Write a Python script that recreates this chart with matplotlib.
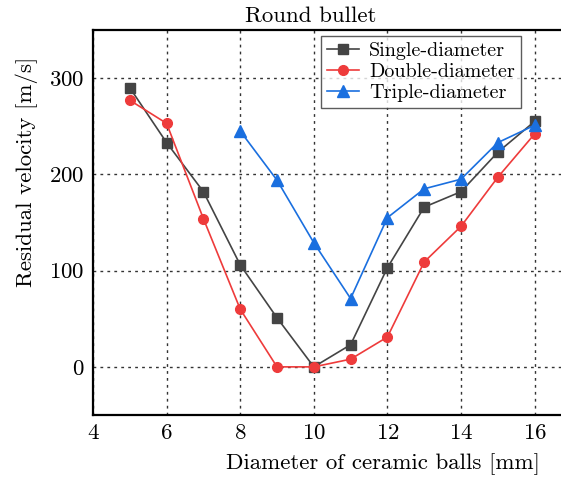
import matplotlib
matplotlib.use("Agg")
from matplotlib import pyplot as plt

plt.rcParams['font.family'] = ['cmr10', 'DejaVu Serif']
plt.rcParams['mathtext.fontset'] = 'cm'
plt.rcParams['axes.unicode_minus'] = False
plt.rcParams['axes.formatter.use_mathtext'] = True

x_single = [5, 6, 7, 8, 9, 10, 11, 12, 13, 14, 15, 16]
y_single = [290, 233, 182, 106, 51, 0, 23, 103, 166, 182, 223, 255]
x_double = [5, 6, 7, 8, 9, 10, 11, 12, 13, 14, 15, 16]
y_double = [277, 253, 154, 60, 0, 0, 8, 31, 109, 146, 197, 242]
x_triple = [8, 9, 10, 11, 12, 13, 14, 15, 16]
y_triple = [245, 194, 129, 71, 155, 185, 195, 233, 251]
x_ticks = [4, 6, 8, 10, 12, 14, 16]
y_ticks = [0, 100, 200, 300]

W, H = 561, 484
fig = plt.figure(figsize=(W / 100, H / 100), dpi=100)
ax = fig.add_axes([93 / W, (H - 415) / H, (W - 93) / W, 385 / H])

ax.plot(x_single, y_single, '-s', color='#444444', lw=1.2, ms=6.5, label='Single-diameter', zorder=3)
ax.plot(x_double, y_double, '-o', color='#ee3b3b', lw=1.2, ms=7, label='Double-diameter', zorder=3)
ax.plot(x_triple, y_triple, '-^', color='#1a6fdf', lw=1.2, ms=8, label='Triple-diameter', zorder=3)

ax.set_xlim(4, 4 + 468 / 36.8)
ax.set_ylim(-50, 350)
ax.set_xticks(x_ticks)
ax.set_yticks(y_ticks)
ax.tick_params(length=0, labelsize=16.5, pad=6)
ax.grid(True, linestyle=(0, (2, 3)), color='#333333', lw=1.0)

for s in ['left', 'bottom', 'top']:
    ax.spines[s].set_linewidth(1.6)
ax.spines['right'].set_visible(False)

ax.set_title('Round bullet', fontsize=16.5, x=(311 - 93) / 468, pad=6)
ax.set_xlabel('Diameter of ceramic balls [mm]', fontsize=16.5)
ax.xaxis.set_label_coords((383 - 93) / 468, -(453 - 415) / 385)
ax.set_ylabel('Residual velocity [m/s]', fontsize=16.5)
ax.yaxis.set_label_coords(-(93 - 38) / 468, (415 - 172) / 385)

leg = ax.legend(loc='upper right', bbox_to_anchor=((521 - 93) / 468, 1 - 6 / 385),
                fontsize=14.5, frameon=True, fancybox=False, edgecolor='#333333',
                handlelength=1.6, handletextpad=0.5, borderpad=0.3, labelspacing=0.15,
                borderaxespad=0)
leg.get_frame().set_linewidth(1.0)

fig.savefig('out.png', dpi=100)
